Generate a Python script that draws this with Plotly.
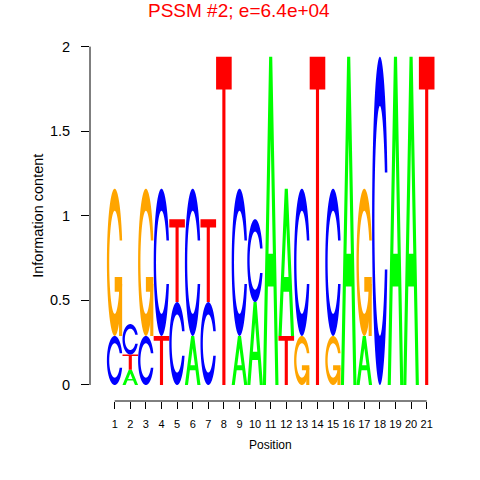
import numpy as np
import plotly.graph_objects as go

# ---- data: information content (bits) per letter at each position ----
positions = list(range(1, 22))
A_bits = [0.00, 0.09, 0.00, 0.00, 0.00, 0.29, 0.00, 0.00, 0.29, 0.49, 1.94, 0.87, 0.00, 0.00, 0.00, 1.94, 0.29, 0.00, 1.94, 1.94, 0.00]
C_bits = [0.29, 0.18, 0.29, 0.87, 0.49, 0.87, 0.49, 0.00, 0.87, 0.49, 0.00, 0.00, 0.87, 0.00, 0.87, 0.00, 0.00, 1.94, 0.00, 0.00, 0.00]
G_bits = [0.87, 0.00, 0.87, 0.00, 0.00, 0.00, 0.00, 0.00, 0.00, 0.00, 0.00, 0.00, 0.29, 0.00, 0.29, 0.00, 0.87, 0.00, 0.00, 0.00, 0.00]
T_bits = [0.00, 0.09, 0.00, 0.29, 0.49, 0.00, 0.49, 1.94, 0.00, 0.00, 0.00, 0.29, 0.00, 1.94, 0.00, 0.00, 0.00, 0.00, 0.00, 0.00, 1.94]
letters = ["A", "C", "G", "T"]
colors = {"A": "#00FF00", "C": "#0000FF", "G": "#FFA500", "T": "#FF0000"}
y_ticks = [0, 0.5, 1, 1.5, 2]
y_ticklabels = ["0", "0.5", "1", "1.5", "2"]
title_text = "PSSM #2; e=6.4e+04"


# ---- glyph polygons in a unit box (seqLogo style) ----
def glyph_A():
    x = np.array([0, 4, 6, 10, 8, 6.8, 3.2, 2, 0]) * 0.1
    y = np.array([0, 10, 10, 0, 0, 3, 3, 0, 0]) * 0.1
    hx = np.array([3.6, 5, 6.4, 3.6]) * 0.1
    hy = np.array([4, 7.5, 4, 4]) * 0.1
    return [(x, y), (hx, hy)], "evenodd"


def _c_ring():
    a1 = np.linspace(0.3 + np.pi / 2, np.pi, 100)
    a2 = np.linspace(np.pi, 1.5 * np.pi, 100)
    xl1 = 0.5 + 0.5 * np.sin(a1); yl1 = 0.5 + 0.5 * np.cos(a1)
    xl2 = 0.5 + 0.5 * np.sin(a2); yl2 = 0.5 + 0.5 * np.cos(a2)
    xl = np.concatenate([xl1, xl2]); yl = np.concatenate([yl1, yl2])
    x = np.concatenate([xl, xl[::-1]]); y = np.concatenate([yl, 1 - yl[::-1]])
    xi1 = 0.5 + 0.35 * np.sin(a1); yi1 = 0.5 + 0.35 * np.cos(a1)
    m = yi1 <= yl1.max()
    xi1 = xi1[m]; yi1 = yi1[m]
    yi1[0] = yl1.max()
    xi2 = 0.5 + 0.35 * np.sin(a2); yi2 = 0.5 + 0.35 * np.cos(a2)
    xi = np.concatenate([xi1, xi2]); yi = np.concatenate([yi1, yi2])
    x1 = np.concatenate([xi, xi[::-1]]); y1 = np.concatenate([yi, 1 - yi[::-1]])
    x = np.concatenate([x, x1[::-1]]); y = np.concatenate([y, y1[::-1]])
    return x, y, xl1.max()


def glyph_C():
    x, y, _ = _c_ring()
    return [(x, y)], "nonzero"


def glyph_G():
    x, y, r1 = _c_ring()
    h1 = 0.4
    xa = np.array([r1, 0.5, 0.5, r1 - 0.2, r1 - 0.2, r1, r1])
    ya = np.array([h1, h1, h1 - 0.1, h1 - 0.1, 0, 0, h1])
    return [(x, y), (xa, ya)], "separate"


def glyph_T():
    x = np.array([0, 10, 10, 6, 6, 4, 4, 0]) * 0.1
    y = np.array([10, 10, 9, 9, 0, 0, 9, 9]) * 0.1
    return [(x, y)], "nonzero"


glyphs = {"A": glyph_A(), "C": glyph_C(), "G": glyph_G(), "T": glyph_T()}


def to_path(polys, x0, y0, h):
    parts = []
    for px, py in polys:
        X = x0 + px
        Y = y0 + py * h
        pts = " L".join(f"{a:.4f},{b:.5f}" for a, b in zip(X, Y))
        parts.append("M" + pts + " Z")
    return " ".join(parts)


bits = {"A": A_bits, "C": C_bits, "G": G_bits, "T": T_bits}
shapes = []
for i, pos in enumerate(positions):
    col = [(bits[L][i], L) for L in letters]
    order = sorted(range(4), key=lambda k: (col[k][0], k))
    ybase = 0.0
    for k in order:
        h, L = col[k]
        if h <= 0:
            continue
        polys, rule = glyphs[L]
        x0 = pos - 0.5
        if rule == "separate":
            for p in polys:
                shapes.append(dict(type="path", path=to_path([p], x0, ybase, h),
                                   xref="x", yref="y", fillcolor=colors[L],
                                   line=dict(width=0), layer="above"))
        else:
            shapes.append(dict(type="path", path=to_path(polys, x0, ybase, h),
                               xref="x", yref="y", fillcolor=colors[L],
                               fillrule=rule, line=dict(width=0), layer="above"))
        ybase += h

# axis lines like R's base graphics
shapes.append(dict(type="line", xref="paper", yref="y", x0=0, x1=0, y0=0, y1=2,
                   line=dict(color="#000000", width=1)))
shapes.append(dict(type="line", xref="x", yref="paper", x0=positions[0], x1=positions[-1],
                   y0=0, y1=0, line=dict(color="#000000", width=1)))

fig = go.Figure()
fig.add_trace(go.Scatter(x=[positions[0], positions[-1]], y=[0, 2], mode="markers",
                         marker=dict(opacity=0), hoverinfo="skip", showlegend=False))

FONT = "Liberation Sans, Arial, sans-serif"
fig.update_layout(
    width=480, height=480,
    margin=dict(l=90, r=30, t=35, b=79),
    paper_bgcolor="white", plot_bgcolor="white",
    shapes=shapes,
    showlegend=False,
    font=dict(family=FONT, color="#000000"),
    xaxis=dict(range=[-0.583, 22.494], tickmode="array", tickvals=positions,
               ticktext=[str(p) for p in positions], ticks="outside", ticklen=7,
               tickwidth=1, tickcolor="#000000", showline=False, showgrid=False,
               zeroline=False, tickfont=dict(size=11, family=FONT),
               ticklabelstandoff=6, fixedrange=True),
    yaxis=dict(range=[-0.0946, 2.0686], tickmode="array", tickvals=y_ticks,
               ticktext=y_ticklabels, ticks="outside", ticklen=8, tickwidth=1,
               tickcolor="#000000", showline=False, showgrid=False, zeroline=False,
               tickfont=dict(size=14.5, family=FONT), ticklabelstandoff=8,
               fixedrange=True),
    annotations=[
        dict(text=title_text, xref="paper", yref="paper", x=(238.5 - 90) / 360,
             y=1 + (35 - 10) / 366, xanchor="center", yanchor="middle",
             showarrow=False, font=dict(size=19, color="#FF0000", family=FONT)),
        dict(text="Position", xref="x", yref="paper", x=11, y=-(445 - 401) / 366,
             xanchor="center", yanchor="middle", showarrow=False,
             font=dict(size=12, family=FONT)),
        dict(text="Information content", xref="paper", yref="y", x=-(90 - 38) / 360,
             y=1.0, xanchor="center", yanchor="middle", textangle=-90,
             showarrow=False, font=dict(size=14.5, family=FONT)),
    ],
)

fig.write_html("out.html", config={"displayModeBar": False},
               post_script="document.body.style.margin='0px';document.body.style.padding='0px';")
